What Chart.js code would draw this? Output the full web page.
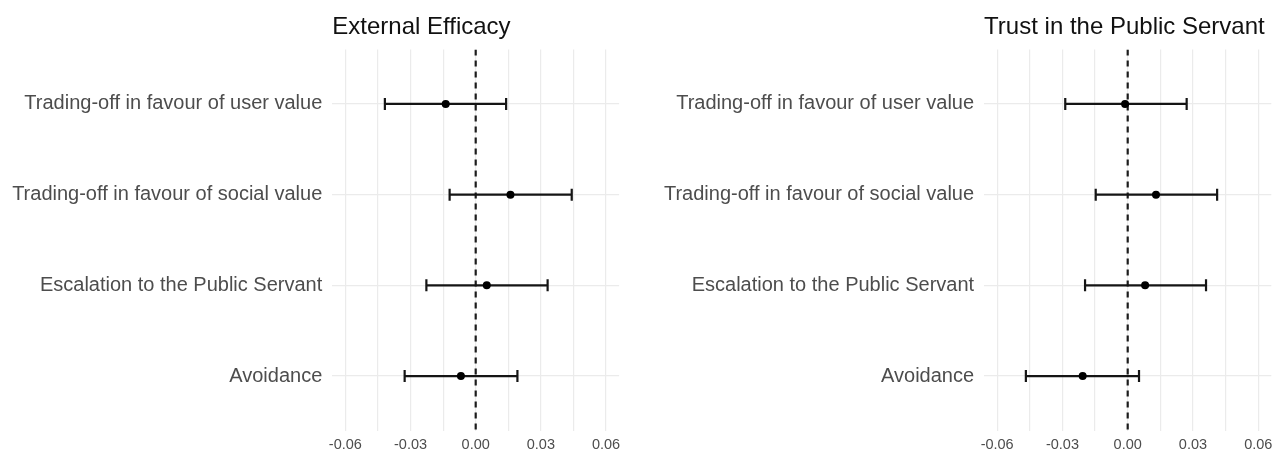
<!DOCTYPE html>
<html>
<head>
<meta charset="utf-8">
<script src="https://cdn.jsdelivr.net/npm/chart.js@4/dist/chart.umd.min.js"></script>
<style>
  html, body { margin: 0; padding: 0; background: #ffffff; }
  #wrap { position: relative; width: 1286px; height: 453px; }
  .panel { position: absolute; top: 0; }
</style>
</head>
<body>
<div id="wrap">
  <canvas id="efficacy" class="panel" width="643" height="453" style="left:0px"></canvas>
  <canvas id="trust" class="panel" width="643" height="453" style="left:643px"></canvas>
</div>
<script>
// Conditions, listed top to bottom
const categories = [
  'Trading-off in favour of user value',
  'Trading-off in favour of social value',
  'Escalation to the Public Servant',
  'Avoidance'
];

// External Efficacy: estimates with confidence bounds
const efficacyEst  = [-0.0138, 0.0160, 0.0051, -0.0068];
const efficacyLow  = [-0.0418, -0.0120, -0.0227, -0.0327];
const efficacyHigh = [0.0140, 0.0442, 0.0331, 0.0192];

// Trust in the Public Servant: estimates with confidence bounds
const trustEst  = [-0.0012, 0.0130, 0.0080, -0.0207];
const trustLow  = [-0.0287, -0.0147, -0.0196, -0.0468];
const trustHigh = [0.0271, 0.0411, 0.0360, 0.0052];

// Horizontal axis: gridline positions and labelled ticks
const xGridValues  = [-0.06, -0.045, -0.03, -0.015, 0, 0.015, 0.03, 0.045, 0.06];
const xTickValues  = [-0.06, -0.03, 0, 0.03, 0.06];
const xTickLabels  = ['-0.06', '-0.03', '0.00', '0.03', '0.06'];
const xMin = -0.066, xMax = 0.066;

// Vertical axis: one row per condition, with padding above and below
const yMin = 0.4, yMax = 4.6;

const FONT = "'Liberation Sans', Arial, Helvetica, sans-serif";
const INK = '#151515';
const GRID = '#ebebeb';
const AXIS_TEXT = '#4d4d4d';

function buildPanel(canvasId, title, est, low, high, axisWidth, rightPad) {
  const rows = categories.map((_, i) => i + 1);

  const intervalSets = rows.map((r, i) => ({
    data: [{ x: low[i], y: r }, { x: high[i], y: r }],
    showLine: true,
    borderColor: INK,
    borderWidth: 2.2,
    pointRadius: 0,
    order: 2
  }));

  const caps = {
    data: rows.flatMap((r, i) => [{ x: low[i], y: r }, { x: high[i], y: r }]),
    pointStyle: 'line',
    rotation: 90,
    pointRadius: 6,
    borderColor: INK,
    borderWidth: 2.2,
    order: 1
  };

  const points = {
    data: rows.map((r, i) => ({ x: est[i], y: r })),
    pointStyle: 'circle',
    pointRadius: 4,
    backgroundColor: '#000000',
    borderWidth: 0,
    order: 0
  };

  const zeroLine = {
    data: [{ x: 0, y: yMin }, { x: 0, y: yMax }],
    showLine: true,
    borderColor: '#1c1c1c',
    borderWidth: 2.2,
    borderDash: [6, 5],
    pointRadius: 0,
    order: 3
  };

  return new Chart(document.getElementById(canvasId), {
    type: 'scatter',
    data: { datasets: [zeroLine, ...intervalSets, caps, points] },
    options: {
      responsive: false,
      animation: false,
      events: [],
      layout: { padding: { left: 0, right: rightPad, top: 0, bottom: 0 } },
      plugins: {
        legend: { display: false },
        tooltip: { enabled: false },
        title: {
          display: true,
          text: title,
          align: 'start',
          fullSize: false,
          color: '#111111',
          font: { family: FONT, size: 24, weight: 'normal', lineHeight: 1.2 },
          padding: { top: 13, bottom: 7.7 }
        }
      },
      scales: {
        x: {
          type: 'linear',
          min: xMin,
          max: xMax,
          afterBuildTicks: (scale) => { scale.ticks = xGridValues.map(v => ({ value: v })); },
          afterFit: (scale) => { scale.height = 22.5; },
          grid: { color: GRID, lineWidth: 1.2, drawTicks: false },
          border: { display: false },
          ticks: {
            color: AXIS_TEXT,
            font: { family: FONT, size: 14.5 },
            padding: 6,
            maxRotation: 0,
            autoSkip: false,
            callback: (value) => {
              const k = xTickValues.findIndex(t => Math.abs(t - value) < 1e-9);
              return k >= 0 ? xTickLabels[k] : '';
            }
          }
        },
        y: {
          type: 'linear',
          reverse: true,
          min: yMin,
          max: yMax,
          afterBuildTicks: (scale) => { scale.ticks = rows.map(v => ({ value: v })); },
          afterFit: (scale) => { scale.width = axisWidth; },
          grid: { color: GRID, lineWidth: 1.2, drawTicks: false },
          border: { display: false },
          ticks: {
            color: AXIS_TEXT,
            font: { family: FONT, size: 20 },
            padding: 10,
            autoSkip: false,
            callback: (value) => categories[Math.round(value) - 1]
          }
        }
      }
    }
  });
}

buildPanel('efficacy', 'External Efficacy', efficacyEst, efficacyLow, efficacyHigh, 332.3, 23.9);
buildPanel('trust', 'Trust in the Public Servant', trustEst, trustLow, trustHigh, 341.1, 14.7);
</script>
</body>
</html>
